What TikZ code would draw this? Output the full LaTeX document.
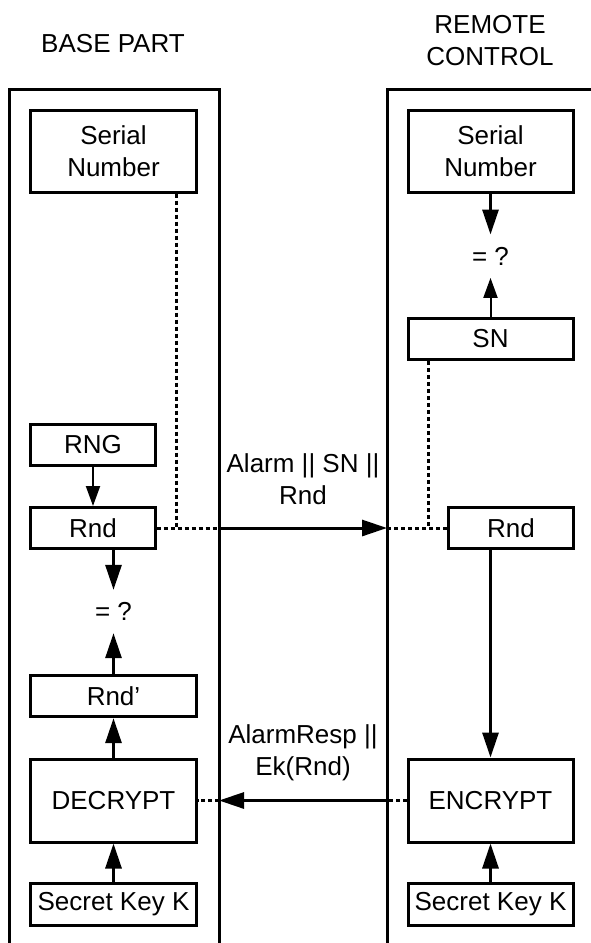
\documentclass[tikz,border=0pt]{standalone}
\usepackage{fontspec}
\setmainfont{Liberation Sans}
\usetikzlibrary{arrows.meta, positioning}

\begin{document}
\begin{tikzpicture}[
    x=1bp, y=-1bp,
    font=\fontsize{26bp}{32bp}\selectfont,
    box/.style={draw, line width=3bp, align=center, minimum width=165bp, inner sep=0pt},
    slim/.style={box, minimum height=41bp},
    eq/.style={minimum height=43bp, inner sep=0pt},
    frame/.style={line width=3bp},
    arr/.style={line width=3bp, -{Triangle[length=25bp, width=16bp]}},
    thinarr/.style={line width=2bp, -{Triangle[length=20bp, width=14bp]}},
    dots/.style={line width=3bp, dash pattern=on 4bp off 3bp},
    msg/.style={align=center, inner sep=0pt}
]
\useasboundingbox (0,0) rectangle (591,943);

\node (base) at (113,44) {BASE PART};
\node[align=center] (remote) at (490,40.5) {REMOTE\\CONTROL};

\draw[frame] (9,950) -- (9,89) -- (219,89) -- (219,950);
\draw[frame] (387,950) -- (387,89) -- (600,89);
\coordinate (lwall) at (219,89);
\coordinate (rwall) at (387,89);

\node[box, minimum height=82bp] (rsn) at (490.5,151) {Serial\\Number};
\node[eq, below=41bp of rsn] (req) {= ?};
\node[slim, below=39bp of req] (sn) {SN};
\node[slim, minimum width=125bp] (rrnd) at (511,528) {Rnd};
\node[box, minimum height=83bp] (enc) at (490.5,800.5) {ENCRYPT};
\node[box, minimum height=42bp, below=38bp of enc] (rkey) {Secret Key K};

\node[box, minimum height=82bp] (lsn) at (113.5,151) {Serial\\Number};
\node[slim, minimum width=124bp] (rng) at (93,444.5) {RNG};
\node[slim, minimum width=124bp] (lrnd) at (rng |- rrnd) {Rnd};
\node[eq] (leq) at (113.5,611.5) {= ?};
\node[slim, below=41bp of leq] (rndp) {Rnd’};
\node[box, minimum height=83bp] (dec) at (leq |- enc) {DECRYPT};
\node[box, minimum height=42bp, below=38bp of dec] (lkey) {Secret Key K};

\coordinate (lout) at (lrnd.east -| lwall);
\coordinate (rin) at (rrnd.west -| rwall);
\coordinate (rout) at (enc.west -| rwall);
\coordinate (lin) at (dec.east -| lwall);

\draw[thinarr] (rng) -- (lrnd);
\draw[arr] (lrnd.south -| leq) -- (leq);
\draw[arr] (rndp) -- (leq);
\draw[arr] (dec) -- (rndp);
\draw[arr] (lkey) -- (dec);

\draw[arr] (rsn) -- (req);
\draw[thinarr] (sn) -- (req);
\draw[arr] (rrnd.south -| enc) -- (enc);
\draw[arr] (rkey) -- (enc);

\draw[dots] ([xshift=-21bp]lsn.south east) -- ([xshift=-21bp]lsn.south east |- lout);
\draw[dots] (lrnd.east) -- (lout);
\draw[dots] ([xshift=22bp]sn.south west) -- ([xshift=22bp]sn.south west |- rin);
\draw[dots] (rin) -- (rrnd.west);
\draw[dots] (enc.west) -- (rout);
\draw[dots] (lin) -- (dec.east);

\draw[arr] (lout) -- node[msg, above=22bp] (m1) {Alarm || SN ||\\Rnd} (rin);
\draw[arr] (rout) -- node[msg, above=18bp] (m2) {AlarmResp ||\\Ek(Rnd)} (lin);
\end{tikzpicture}
\end{document}
